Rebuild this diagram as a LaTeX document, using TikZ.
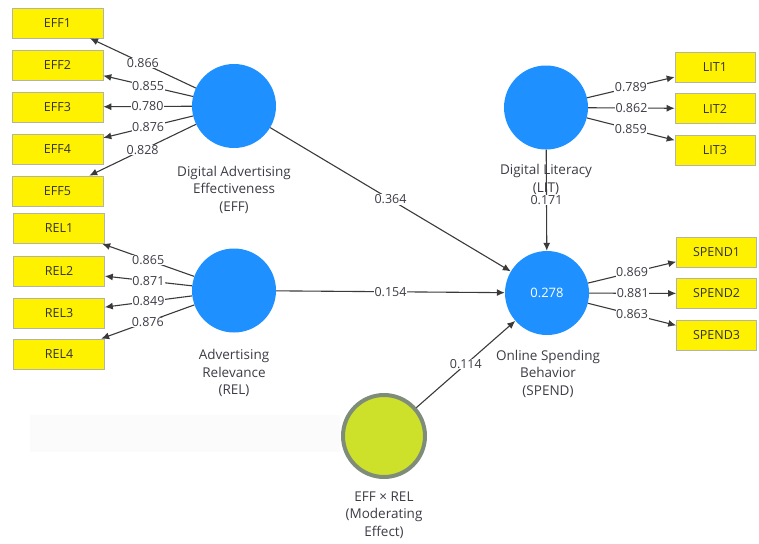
\documentclass[tikz,border=0pt]{standalone}
\usepackage{fontspec}
\setmainfont{Open Sans}
\usetikzlibrary{arrows.meta}
\definecolor{lvblue}{HTML}{1E90FF}
\definecolor{modfill}{HTML}{CDE12A}
\definecolor{modedge}{HTML}{7F8C7A}
\definecolor{boxedge}{HTML}{B4B4A0}
\definecolor{txt}{HTML}{3C3C46}
\definecolor{lin}{HTML}{3A3A3A}
\tikzset{
  ind/.style={draw=boxedge, line width=0.6pt, fill=yellow, minimum height=30pt, inner sep=0pt, font=\fontsize{12.5}{13}\selectfont, text=black!80},
  effbox/.style={ind, minimum width=91pt},
  litbox/.style={ind, minimum width=80pt},
  latent/.style={circle, fill=lvblue, minimum size=84pt, inner sep=0pt, text=white, font=\fontsize{13}{14}\selectfont},
  modlv/.style={circle, fill=modfill, draw=modedge, line width=4pt, minimum size=82pt, inner sep=0pt},
  lvcaption/.style={align=center, text=txt, font=\fontsize{13.5}{17.5}\selectfont},
  conn/.style={draw=lin, line width=1.1pt, -{Latex[length=8pt,width=7pt]}},
  wt/.style={fill=white, inner sep=0.6pt, text=txt, font=\fontsize{12.5}{13}\selectfont, pos=0.5}
}
\begin{document}
\begin{tikzpicture}[x=1pt,y=-1pt]
\useasboundingbox (0,0) rectangle (759,543);
\fill[black!1.5] (30,415) rectangle (340,452);
% latent variables
\node[latent] (eff) at (234,106) {};
\node[latent] (rel) at (234,290.5) {};
\node[latent] (lit) at (546,107.5) {};
\node[latent] (spend) at (547,293) {0.278};
\node[modlv] (mod) at (384,436) {};
% captions
\node[lvcaption] (effc) at (234,189.5) {Digital Advertising\\Effectiveness\\(EFF)};
\node[lvcaption] (relc) at (234,373) {Advertising\\Relevance\\(REL)};
\node[lvcaption] (litc) at (546,179.5) {Digital Literacy\\(LIT)};
\node[lvcaption] (spendc) at (548,373.5) {Online Spending\\Behavior\\(SPEND)};
\node[lvcaption] (modc) at (384,515) {EFF × REL\\(Moderating\\Effect)};
% indicators
\node[effbox] (eff1) at (57.5,23) {EFF1};
\node[effbox] (eff2) at (57.5,65) {EFF2};
\node[effbox] (eff3) at (57.5,107) {EFF3};
\node[effbox] (eff4) at (57.5,149) {EFF4};
\node[effbox] (eff5) at (57.5,191) {EFF5};
\node[effbox] (rel1) at (59,228.5) {REL1};
\node[effbox] (rel2) at (59,271) {REL2};
\node[effbox] (rel3) at (59,313) {REL3};
\node[effbox] (rel4) at (59,354) {REL4};
\node[litbox] (lit1) at (715,67.5) {LIT1};
\node[litbox] (lit2) at (715,108.5) {LIT2};
\node[litbox] (lit3) at (715,150.5) {LIT3};
\node[litbox] (sp1) at (716.5,252) {SPEND1};
\node[litbox] (sp2) at (716.5,293.5) {SPEND2};
\node[litbox] (sp3) at (716.5,335.5) {SPEND3};
% outer loadings
\draw[conn] (eff) -- node[wt] {0.866} (eff1);
\draw[conn] (eff) -- node[wt] {0.855} (eff2);
\draw[conn] (eff) -- node[wt] {0.780} (eff3);
\draw[conn] (eff) -- node[wt] {0.876} (eff4);
\draw[conn] (eff) -- node[wt] {0.828} (eff5);
\draw[conn] (rel) -- node[wt] {0.865} (rel1);
\draw[conn] (rel) -- node[wt] {0.871} (rel2);
\draw[conn] (rel) -- node[wt] {0.849} (rel3);
\draw[conn] (rel) -- node[wt] {0.876} (rel4);
\draw[conn] (lit) -- node[wt] {0.789} (lit1);
\draw[conn] (lit) -- node[wt] {0.862} (lit2);
\draw[conn] (lit) -- node[wt] {0.859} (lit3);
\draw[conn] (spend) -- node[wt] {0.869} (sp1);
\draw[conn] (spend) -- node[wt] {0.881} (sp2);
\draw[conn] (spend) -- node[wt] {0.863} (sp3);
% structural paths
\draw[conn] (eff) -- node[wt] {0.364} (spend);
\draw[conn] (rel) -- node[wt] {0.154} (spend);
\draw[conn] (lit) -- node[wt] {0.171} (spend);
\draw[conn] (mod) -- node[wt] {0.114} (spend);
\end{tikzpicture}
\end{document}
